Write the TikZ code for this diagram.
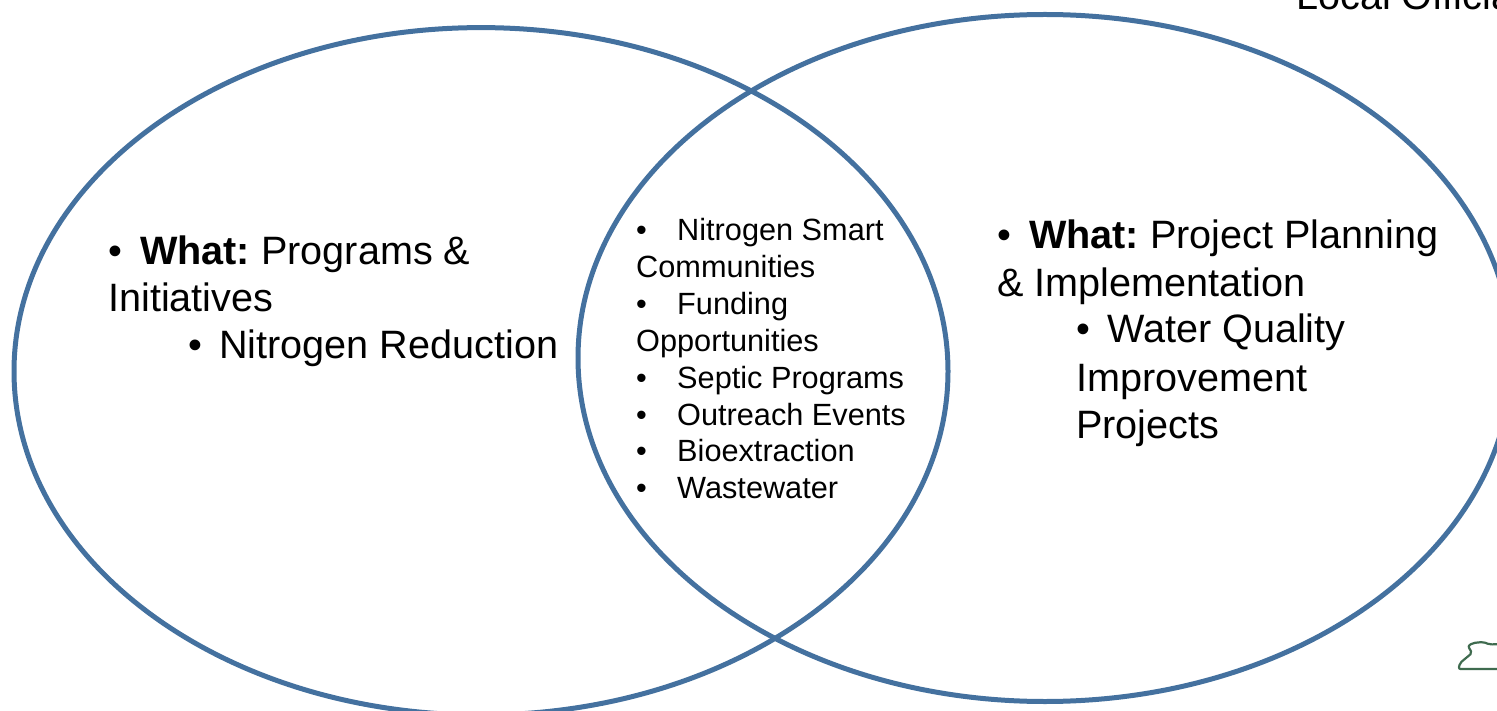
\documentclass[tikz,border=0pt]{standalone}
\usepackage{fontspec}
\setmainfont{Liberation Sans}
\definecolor{ringblue}{HTML}{44719F}
\definecolor{mapgreen}{HTML}{3F6B4F}
\tikzset{
  ring/.style={draw=ringblue,line width=5pt},
  big/.style={anchor=base west,inner sep=0pt,font=\fontsize{39.6pt}{39.6pt}\selectfont},
  small/.style={anchor=base west,inner sep=0pt,font=\fontsize{30.7pt}{30.7pt}\selectfont},
}
\begin{document}
\begin{tikzpicture}[x=1pt,y=-1pt]
\useasboundingbox (0,0) rectangle (1497,711);
\begin{scope}
\clip (0,0) rectangle (1497,711);
\draw[ring] (481,371.3) ellipse [x radius=467,y radius=343.7];
\draw[ring] (1045,358) ellipse [x radius=467,y radius=343.5];
\draw[mapgreen,line width=2.2pt,line join=round,rounded corners=2pt] (1500,644) -- (1490,644.5) -- (1483,642) -- (1473,643) -- (1468,646) -- (1472,653) -- (1460,663) -- (1458.5,669) -- (1500,669);
\node[big] (localofficials) at (1296,10) {Local Officials};
\end{scope}
\node[big] (lb1) at (108,264.5) {•};
\node[big] (l1) at (140,264.5) {\textbf{What:}\hspace{-3.5pt} Programs \&};
\node[big] (l2) at (108,312) {Initiatives};
\node[big] (lb3) at (188,359) {•};
\node[big] (l3) at (219,359) {Nitrogen Reduction};
\node[small] (mb1) at (636,241) {•};
\node[small] (m1) at (677,241) {Nitrogen Smart};
\node[small] (m1b) at (636,278) {Communities};
\node[small] (mb2) at (636,315) {•};
\node[small] (m2) at (677,315) {Funding};
\node[small] (m2b) at (636,351.5) {Opportunities};
\node[small] (mb3) at (636,388.5) {•};
\node[small] (m3) at (677,388.5) {Septic Programs};
\node[small] (mb4) at (636,425) {•};
\node[small] (m4) at (677,425) {Outreach Events};
\node[small] (mb5) at (636,461) {•};
\node[small] (m5) at (677,461) {Bioextraction};
\node[small] (mb6) at (636,498) {•};
\node[small] (m6) at (677,498) {Wastewater};
\node[big] (rb1) at (997,249) {•};
\node[big] (r1) at (1029,249) {\textbf{What:}\hspace{-3.5pt} Project Planning};
\node[big] (r1b) at (997,297) {\& Implementation};
\node[big] (rb2) at (1076,343) {•};
\node[big] (r2) at (1107,343) {Water Quality};
\node[big] (r2b) at (1076,391) {Improvement};
\node[big] (r2c) at (1076,438) {Projects};
\end{tikzpicture}
\end{document}
